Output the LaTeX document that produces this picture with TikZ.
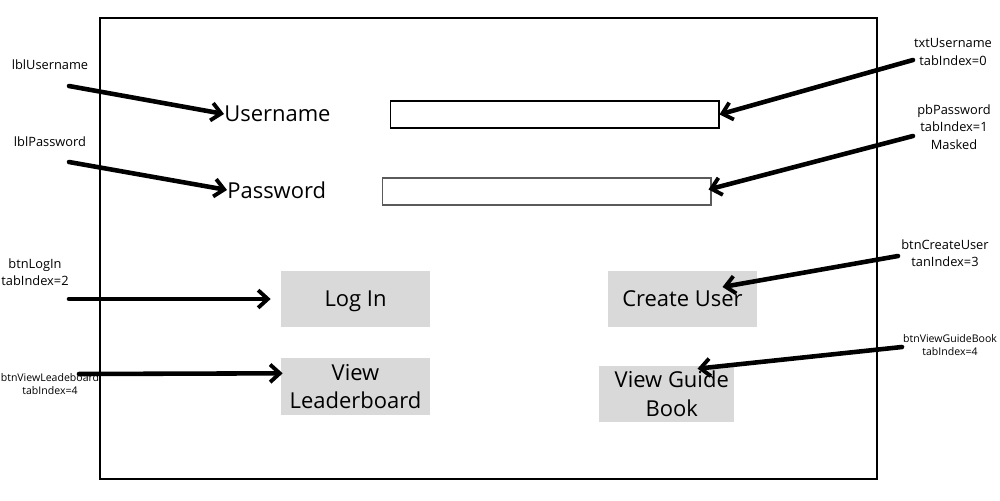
\documentclass[tikz,border=0pt]{standalone}
\usepackage{fontspec}
\setmainfont{Open Sans}
\usetikzlibrary{arrows.meta, positioning, calc}
\definecolor{btngray}{RGB}{217,217,217}
\definecolor{fieldgray}{RGB}{90,90,90}

\begin{document}
\begin{tikzpicture}[x=0.02cm, y=-0.02cm,
  ptr/.style={-{Straight Barb[length=5.5pt, width=10pt, line width=2.2pt]}, line width=2.6pt, line cap=round},
  note/.style={font=\fontsize{7.3}{9.8}\selectfont, align=center, inner sep=0pt},
  smallnote/.style={font=\fontsize{6}{7.4}\selectfont, align=center, inner sep=0pt},
  formtext/.style={font=\fontsize{12.5}{16.4}\selectfont, inner sep=0pt},
  field/.style={draw, line width=0.6pt, minimum width=6.58cm, minimum height=0.54cm, inner sep=0pt},
  button/.style={fill=btngray, formtext, align=center, minimum width=2.98cm, minimum height=1.12cm},
  onerow/.style={text height=8.9pt, text depth=0pt}]

  \useasboundingbox (0,0) rectangle (1000,500);

  % window frame
  \draw[line width=0.6pt] (100,18) rectangle (877,479);

  % form controls
  \node[formtext, anchor=west] (username) at (224,114) {Username};
  \node[formtext, anchor=west] (password) at (227,190) {Password};
  \node[field] (txtUsername) at (554.5,114.5) {};
  \node[field, draw=fieldgray] (pbPassword) at (546.5,191.5) {};

  \node[button, onerow] (logIn) at (355.5,299) {Log In};
  \node[button, onerow] (createUser) at (682.5,299) {Create User};
  \node[button, minimum height=1.14cm] (viewLeaderboard) at (355.5,386.5) {View\\Leaderboard};
  \node[button, minimum width=2.70cm] (viewGuideBook) at (666.5,394) {\hspace{6pt}View Guide\\\hspace{6pt}Book};

  % annotations
  \node[note] (lblUsernameNote) at (50,65) {lblUsername};
  \node[note] (lblPasswordNote) at (50,142) {lblPassword};
  \node[note] (txtUsernameNote) at (953,52) {txtUsername\\tabIndex=0};
  \node[note] (pbPasswordNote) at (954,127) {pbPassword\\tabIndex=1\\Masked};
  \node[note] (btnLogInNote) at (35,272) {btnLogIn\\tabIndex=2};
  \node[smallnote] (btnLeaderNote) at (50,384) {btnViewLeadeboard\\tabIndex=4};
  \node[note] (btnCreateNote) at (945,253) {btnCreateUser\\tanIndex=3};
  \node[smallnote] (btnGuideNote) at (950,345) {btnViewGuideBook\\tabIndex=4};

  % arrow tails
  \coordinate (tailU) at (69,86);
  \coordinate (tailP) at (69,162);
  \coordinate (tailTxt) at (913,60);
  \coordinate (tailPb) at (913,136);
  \coordinate (tailLog) at (69,299);
  \coordinate (tailLeader) at (79,374);
  \coordinate (tailCreate) at (898,256);
  \coordinate (tailGuide) at (902,347);

  % pointers
  \draw[ptr] (tailU) -- (username.west);
  \draw[ptr] (tailP) -- (password.west);
  \draw[ptr] (tailTxt) -- (txtUsername.east);
  \draw[ptr] (tailPb) -- ($(pbPassword.east)+(-3,-2)$);
  \draw[ptr, shorten >=5.7pt] (tailLog) -- (logIn.west);
  \draw[ptr] (tailLeader) -- ($(viewLeaderboard.170)+(2,0)$);
  \draw[ptr] (tailCreate) -- ($(createUser.center)+(40,-12)$);
  \draw[ptr] (tailGuide) -- ($(viewGuideBook.north)+(31,3)$);
\end{tikzpicture}
\end{document}
